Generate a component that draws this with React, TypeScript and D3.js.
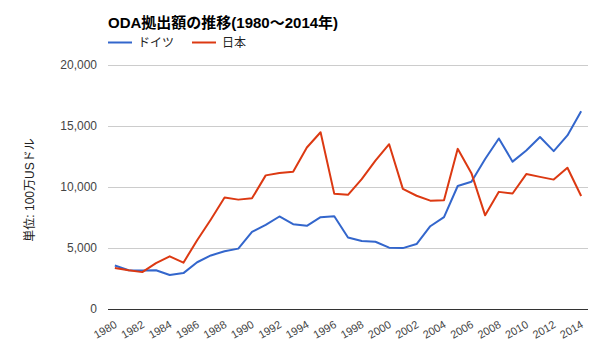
import React from "react";
import * as d3 from "d3";

const years: number[] = [
  1980, 1981, 1982, 1983, 1984, 1985, 1986, 1987, 1988, 1989,
  1990, 1991, 1992, 1993, 1994, 1995, 1996, 1997, 1998, 1999,
  2000, 2001, 2002, 2003, 2004, 2005, 2006, 2007, 2008, 2009,
  2010, 2011, 2012, 2013, 2014,
];

const germany: number[] = [
  3567, 3181, 3152, 3176, 2782, 2942, 3832, 4391, 4731, 4949,
  6320, 6890, 7583, 6954, 6818, 7524, 7601, 5857, 5581, 5515,
  5030, 4990, 5324, 6784, 7534, 10082, 10435, 12291, 13981, 12079,
  12985, 14093, 12939, 14228, 16200,
];

const japan: number[] = [
  3353, 3171, 3023, 3761, 4319, 3797, 5634, 7342, 9134, 8965,
  9069, 10952, 11151, 11259, 13239, 14489, 9439, 9358, 10640, 12163,
  13508, 9847, 9283, 8880, 8922, 13126, 11136, 7679, 9601, 9467,
  11058, 10831, 10605, 11582, 9266,
];

const yTicks: number[] = [0, 5000, 10000, 15000, 20000];
const xTickYears: number[] = [
  1980, 1982, 1984, 1986, 1988, 1990, 1992, 1994, 1996, 1998,
  2000, 2002, 2004, 2006, 2008, 2010, 2012, 2014,
];

const seriesNames = ["ドイツ", "日本"];
const colors = ["#3366cc", "#dc3912"];
const title = "ODA拠出額の推移(1980～2014年)";
const yTitle = "単位: 100万USドル";

const FONT = "'Liberation Sans', Arial, 'Noto Sans CJK JP', sans-serif";

export default function App() {
  const W = 600, H = 360;
  const left = 108, right = 588, top = 65, bottom = 309;
  const x = d3.scalePoint<number>().domain(years).range([left, right]).padding(0.5);
  const y = d3.scaleLinear().domain([0, 20000]).range([bottom, top]);
  const fmt = d3.format(",");
  const line = (vals: number[]) =>
    d3.line<number>()
      .x((_, i) => x(years[i]) as number)
      .y((v) => y(v))(vals) as string;
  const series = [germany, japan];

  return (
    <svg width={W} height={H} style={{ position: "absolute", left: 0, top: 0 }} fontFamily={FONT}>
      <rect width={W} height={H} fill="#fff" />
      <text x={108} y={28} fontSize={15} fontWeight="bold" fill="#000">{title}</text>
      {seriesNames.map((n, i) => {
        const lx = i === 0 ? 108 : 192;
        return (
          <g key={n}>
            <line x1={lx} x2={lx + 24} y1={42.5} y2={42.5} stroke={colors[i]} strokeWidth={2} />
            <text x={lx + 30} y={47} fontSize={12} fill="#222">{n}</text>
          </g>
        );
      })}
      {yTicks.map((t) => (
        <g key={t}>
          {t !== 0 && (
            <line x1={left} x2={right} y1={y(t) + 0.5} y2={y(t) + 0.5} stroke="#cccccc" strokeWidth={1} />
          )}
          <text x={97} y={y(t) + 4} fontSize={12} fill="#444" textAnchor="end">{fmt(t)}</text>
        </g>
      ))}
      <text
        transform={`translate(34, 190) rotate(-90)`}
        fontSize={12}
        fill="#222"
        textAnchor="middle"
      >{yTitle}</text>
      {series.map((s, i) => (
        <path key={i} d={line(s)} fill="none" stroke={colors[i]} strokeWidth={2} strokeLinejoin="round" />
      ))}
      <line x1={left} x2={right} y1={bottom + 0.5} y2={bottom + 0.5} stroke="#333" strokeWidth={1} />
      {xTickYears.map((yr) => (
        <text
          key={yr}
          transform={`translate(${(x(yr) as number) - 1}, ${bottom + 11}) rotate(-30)`}
          fontSize={11}
          fill="#444"
          textAnchor="end"
          dy="0.71em"
        >{yr}</text>
      ))}
    </svg>
  );
}
